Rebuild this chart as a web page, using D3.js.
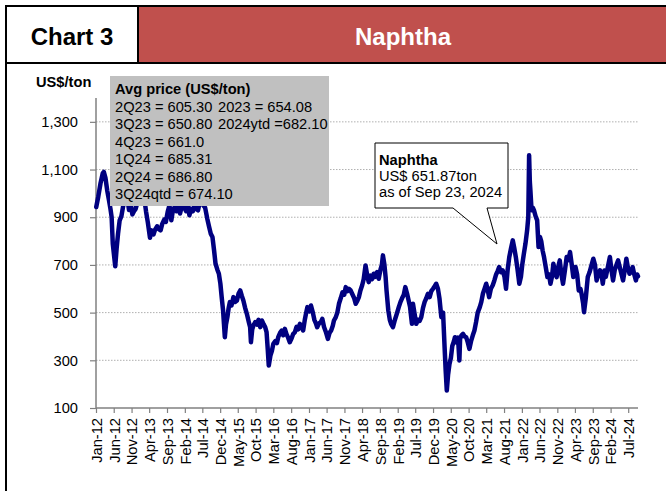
<!DOCTYPE html>
<html>
<head>
<meta charset="utf-8">
<script src="https://cdn.jsdelivr.net/npm/d3@7"></script>
<style>
  body { margin: 0; background: #fff; }
  svg { display: block; font-family: "Liberation Sans", Arial, sans-serif; }
</style>
</head>
<body>
<svg id="chart" width="666" height="491"></svg>
<script>
// naphtha price, US$/ton
const dates = [
  "2012-01-03","2012-01-20","2012-02-08","2012-02-28","2012-03-08","2012-03-22","2012-04-06","2012-04-20","2012-05-04","2012-05-14","2012-05-24","2012-06-06","2012-06-14","2012-06-26","2012-07-08","2012-07-22","2012-08-06","2012-08-22","2012-09-10","2012-09-25","2012-10-10","2012-10-25","2012-11-08","2012-11-22","2012-12-06","2012-12-20",
  "2013-01-10","2013-01-28","2013-02-15","2013-03-05","2013-03-20","2013-04-08","2013-04-22","2013-05-08","2013-05-22","2013-06-08","2013-06-22","2013-07-08","2013-07-22","2013-08-08","2013-08-22","2013-09-08","2013-09-22","2013-10-08","2013-10-22","2013-11-08","2013-11-22","2013-12-08","2013-12-22",
  "2014-01-10","2014-01-28","2014-02-12","2014-02-26","2014-03-12","2014-03-26","2014-04-10","2014-04-25","2014-05-10","2014-05-25","2014-06-10","2014-06-25","2014-07-10","2014-07-25","2014-08-12","2014-08-28","2014-09-12","2014-09-26","2014-10-10","2014-10-22","2014-11-07","2014-11-20","2014-12-03","2014-12-15","2014-12-26",
  "2015-01-10","2015-01-20","2015-02-01","2015-02-12","2015-02-22","2015-03-08","2015-03-25","2015-04-10","2015-04-24","2015-05-08","2015-05-22","2015-06-05","2015-06-18","2015-07-03","2015-07-18","2015-08-04","2015-08-15","2015-08-22","2015-09-02","2015-09-12","2015-09-28","2015-10-12","2015-10-26","2015-11-10","2015-11-24","2015-12-08","2015-12-22",
  "2016-01-03","2016-01-14","2016-01-22","2016-02-05","2016-02-18","2016-03-01","2016-03-18","2016-04-01","2016-04-12","2016-04-28","2016-05-12","2016-05-25","2016-06-08","2016-06-22","2016-07-06","2016-07-20","2016-08-05","2016-08-18","2016-09-02","2016-09-16","2016-10-01","2016-10-15","2016-10-30","2016-11-12","2016-11-26","2016-12-08","2016-12-18",
  "2017-01-04","2017-01-18","2017-02-03","2017-02-16","2017-03-01","2017-03-12","2017-03-28","2017-04-12","2017-04-25","2017-05-10","2017-05-25","2017-06-12","2017-06-26","2017-07-10","2017-07-24","2017-08-03","2017-08-18","2017-09-01","2017-09-15","2017-09-30","2017-10-15","2017-10-30","2017-11-12","2017-11-26","2017-12-10","2017-12-24",
  "2018-01-10","2018-01-24","2018-02-06","2018-02-20","2018-03-05","2018-03-18","2018-04-02","2018-04-15","2018-05-01","2018-05-14","2018-05-28","2018-06-12","2018-06-26","2018-07-10","2018-07-24","2018-08-08","2018-08-22","2018-09-06","2018-09-18","2018-09-27","2018-10-10","2018-10-20","2018-10-28","2018-11-12","2018-11-25","2018-12-06","2018-12-22",
  "2019-01-08","2019-01-24","2019-02-10","2019-02-25","2019-03-10","2019-03-25","2019-04-07","2019-04-22","2019-05-06","2019-05-18","2019-06-03","2019-06-12","2019-06-24","2019-07-10","2019-07-25","2019-08-08","2019-08-22","2019-09-06","2019-09-20","2019-10-04","2019-10-18","2019-11-02","2019-11-16","2019-12-01","2019-12-14","2019-12-28",
  "2020-01-12","2020-01-25","2020-02-10","2020-02-25","2020-03-09","2020-03-18","2020-03-28","2020-04-08","2020-04-20","2020-05-02","2020-05-14","2020-05-28","2020-06-06","2020-06-18","2020-07-02","2020-07-14","2020-07-20","2020-08-01","2020-08-14","2020-08-28","2020-09-10","2020-09-24","2020-10-08","2020-10-22","2020-11-06","2020-11-20","2020-12-04","2020-12-18",
  "2021-01-05","2021-01-18","2021-02-01","2021-02-15","2021-03-01","2021-03-12","2021-03-26","2021-04-10","2021-04-26","2021-05-10","2021-05-25","2021-06-08","2021-06-20","2021-07-05","2021-07-20","2021-08-05","2021-08-18","2021-09-01","2021-09-15","2021-09-30","2021-10-15","2021-10-28","2021-11-10","2021-11-25","2021-12-10","2021-12-24",
  "2022-01-04","2022-01-18","2022-02-01","2022-02-15","2022-02-25","2022-03-04","2022-03-10","2022-03-15","2022-03-25","2022-04-05","2022-04-15","2022-04-28","2022-05-12","2022-05-24","2022-06-05","2022-06-16","2022-06-28","2022-07-10","2022-07-25","2022-08-08","2022-08-22","2022-09-03","2022-09-16","2022-09-28","2022-10-12","2022-10-26","2022-11-08","2022-11-22","2022-12-06","2022-12-20",
  "2023-01-06","2023-01-20","2023-02-05","2023-02-18","2023-03-05","2023-03-18","2023-04-06","2023-04-20","2023-05-04","2023-05-18","2023-05-28","2023-06-10","2023-06-18","2023-07-03","2023-07-20","2023-08-05","2023-08-22","2023-09-06","2023-09-20","2023-10-04","2023-10-18","2023-11-02","2023-11-18","2023-11-26","2023-12-10","2023-12-22",
  "2024-01-08","2024-01-26","2024-02-08","2024-02-22","2024-03-08","2024-03-22","2024-04-05","2024-04-20","2024-05-05","2024-05-18","2024-06-02","2024-06-15","2024-06-28","2024-07-12","2024-07-26","2024-08-08","2024-08-22","2024-09-05","2024-09-16","2024-09-23"
];
const prices = [
  943,985,1040,1085,1090,1065,1013,975,935,901,789,730,694,770,831,887,905,950,1000,985,930,955,912,925,935,960,
  985,1000,990,925,880,814,845,828,848,862,850,845,872,890,880,925,950,887,930,945,925,960,916,
  955,940,925,960,908,935,925,950,935,929,965,980,950,940,895,860,830,817,760,706,680,663,621,560,509,
  397,450,481,520,544,530,565,545,551,580,593,570,551,520,495,460,439,376,430,446,460,450,470,439,467,452,439,
  418,340,278,320,340,369,380,372,397,415,425,405,432,410,395,376,392,410,418,440,430,453,440,425,470,500,523,
  505,530,500,470,455,439,455,460,474,440,420,390,415,425,445,467,480,500,537,560,585,575,607,590,600,593,
  575,560,537,550,565,593,615,640,698,660,628,655,640,663,650,670,642,680,700,740,700,650,593,510,470,453,439,
  470,495,523,545,560,575,607,580,550,523,453,537,500,453,470,465,481,520,545,560,579,565,590,600,610,621,
  600,560,481,500,355,260,173,240,285,310,360,380,397,375,395,299,390,405,411,400,397,375,348,380,405,425,460,500,
  523,545,580,600,621,600,565,600,615,635,660,675,691,670,677,650,600,680,733,770,803,770,733,680,621,650,
  700,747,790,845,901,1160,1050,1013,929,940,929,905,887,775,817,800,760,733,690,649,660,621,650,705,670,649,690,719,660,621,
  680,733,720,754,700,649,691,660,593,600,579,540,502,560,649,670,700,726,700,635,660,677,650,621,677,650,
  690,733,680,635,680,700,719,690,660,635,680,726,690,663,670,691,660,635,660,652
];

const xTickLabels = ["Jan-12","Jun-12","Nov-12","Apr-13","Sep-13","Feb-14","Jul-14","Dec-14","May-15","Oct-15","Mar-16","Aug-16","Jan-17","Jun-17","Nov-17","Apr-18","Sep-18","Feb-19","Jul-19","Dec-19","May-20","Oct-20","Mar-21","Aug-21","Jan-22","Jun-22","Nov-22","Apr-23","Sep-23","Feb-24","Jul-24"];
const yTicks = [100, 300, 500, 700, 900, 1100, 1300];
const yDomain = [100, 1400];
const dateDomain = ["2012-01-01", "2024-09-23"];

const avgTitle = "Avg price (US$/ton)";
const avgLeft = ["2Q23 = 605.30", "3Q23 = 650.80", "4Q23 = 661.0", "1Q24 = 685.31", "2Q24 = 686.80", "3Q24qtd = 674.10"];
const avgRight = ["2023 = 654.08", "2024ytd =682.10"];
const noteLines = ["Naphtha", "US$ 651.87ton", "as of Sep 23, 2024"];

const parseDay = d3.timeParse("%Y-%m-%d");
const parseTick = d3.timeParse("%b-%y");
const data = dates.map((d, i) => ({ date: parseDay(d), value: prices[i] }));

const svg = d3.select("#chart");

// header band
svg.append("rect").attr("x", 0).attr("y", 0).attr("width", 666).attr("height", 491).attr("fill", "#fff");
svg.append("rect").attr("x", 138).attr("y", 6).attr("width", 528).attr("height", 57).attr("fill", "#c0504d");
svg.append("line").attr("x1", 6).attr("x2", 666).attr("y1", 6).attr("y2", 6).attr("stroke", "#000").attr("stroke-width", 2);
svg.append("line").attr("x1", 6).attr("x2", 666).attr("y1", 63).attr("y2", 63).attr("stroke", "#000").attr("stroke-width", 2);
svg.append("line").attr("x1", 6).attr("x2", 6).attr("y1", 5).attr("y2", 491).attr("stroke", "#000").attr("stroke-width", 2);
svg.append("line").attr("x1", 138).attr("x2", 138).attr("y1", 6).attr("y2", 63).attr("stroke", "#000").attr("stroke-width", 2);
svg.append("text").attr("x", 72).attr("y", 45).attr("text-anchor", "middle")
  .attr("font-size", 24).attr("font-weight", "bold").text("Chart 3");
svg.append("text").attr("x", 403).attr("y", 45).attr("text-anchor", "middle")
  .attr("font-size", 24).attr("font-weight", "bold").attr("fill", "#fff").text("Naphtha");

// scales
const x = d3.scaleTime().domain(dateDomain.map(parseDay)).range([96, 638]);
const y = d3.scaleLinear().domain(yDomain).range([408, 98]);

// gridlines
svg.append("g")
  .selectAll("line")
  .data(yTicks.filter(t => t > yDomain[0]))
  .enter()
  .append("line")
  .attr("x1", 96).attr("x2", 638)
  .attr("y1", d => y(d)).attr("y2", d => y(d))
  .attr("stroke", "#b0b0b0").attr("stroke-dasharray", "1.5,1.5");

// axes
const yAxis = svg.append("g")
  .attr("transform", "translate(96,0)")
  .call(d3.axisLeft(y).tickValues(yTicks).tickFormat(d3.format(",")).tickSize(6).tickPadding(12));
const xAxis = svg.append("g")
  .attr("transform", "translate(0,408)")
  .call(d3.axisBottom(x).tickValues(xTickLabels.map(parseTick)).tickFormat(d3.timeFormat("%b-%y")).tickSize(5));

[yAxis, xAxis].forEach(a => {
  a.select(".domain").attr("stroke", "#808080").attr("stroke-width", 1.5);
  a.selectAll(".tick line").attr("stroke", "#808080").attr("stroke-width", 1.2);
  a.selectAll("text").attr("font-size", 14.67).attr("fill", "#000")
    .attr("font-family", "'Liberation Sans', Arial, sans-serif");
});
yAxis.select(".domain").attr("d", "M0,98V408");
xAxis.select(".domain").attr("d", "M96,0H638");

xAxis.selectAll("text")
  .attr("transform", "rotate(-90)")
  .attr("text-anchor", "end")
  .attr("x", -10).attr("y", 0).attr("dy", "0.36em");

svg.append("text").attr("x", 36).attr("y", 87).attr("font-size", 14.67)
  .attr("font-weight", "bold").text("US$/ton");

// price line
svg.append("path")
  .datum(data)
  .attr("fill", "none")
  .attr("stroke", "#000080")
  .attr("stroke-width", 4.5)
  .attr("stroke-linejoin", "round")
  .attr("stroke-linecap", "round")
  .attr("d", d3.line().x(d => x(d.date)).y(d => y(d.value)));

// average price box
const box = svg.append("g");
box.append("rect").attr("x", 110).attr("y", 76).attr("width", 219).attr("height", 130).attr("fill", "#c0c0c0");
box.append("text").attr("x", 115).attr("y", 94).attr("font-size", 14.67).attr("font-weight", "bold").text(avgTitle);
box.selectAll(".l").data(avgLeft).enter().append("text")
  .attr("x", 115).attr("y", (d, i) => 111.5 + i * 17.5).attr("font-size", 14.67).text(d => d);
box.selectAll(".r").data(avgRight).enter().append("text")
  .attr("x", 218).attr("y", (d, i) => 111.5 + i * 17.5).attr("font-size", 14.67).text(d => d);

// callout
const note = svg.append("g");
note.append("path")
  .attr("d", "M375,143H508V208H487L497,244L453,208H375Z")
  .attr("fill", "#fff").attr("stroke", "#000").attr("stroke-width", 1);
note.selectAll("text").data(noteLines).enter().append("text")
  .attr("x", 379).attr("y", (d, i) => 165 + i * 16)
  .attr("font-size", 14.67)
  .attr("font-weight", (d, i) => i === 0 ? "bold" : "normal")
  .text(d => d);
</script>
</body>
</html>
